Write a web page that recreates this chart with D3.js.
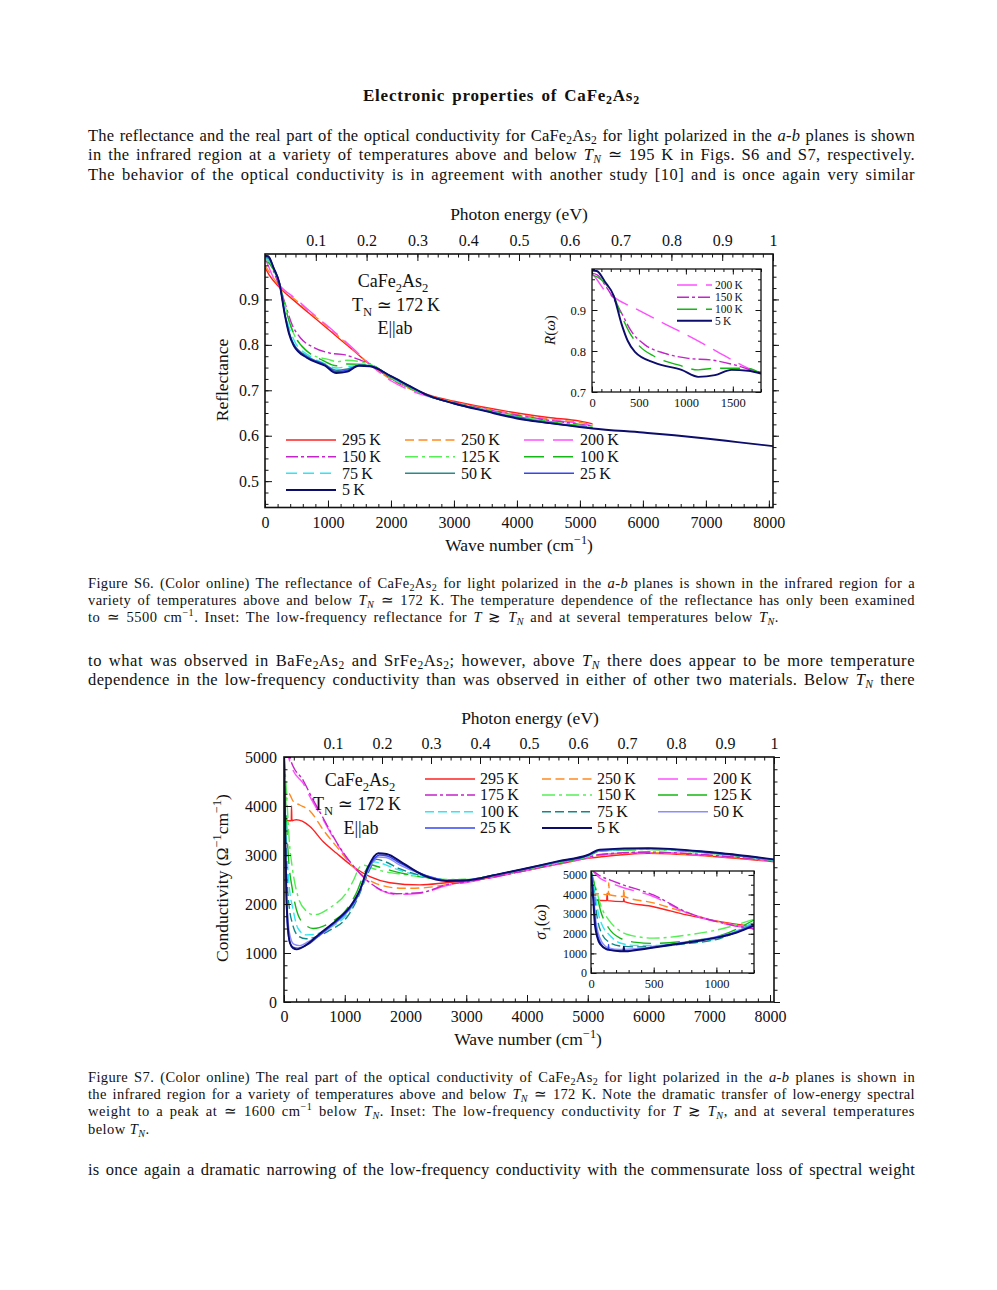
<!DOCTYPE html>
<html><head><meta charset="utf-8">
<script src="https://cdn.jsdelivr.net/npm/d3@7"></script>
<style>body{margin:0;background:#fff}svg{display:block}</style>
</head><body>
<svg id="page" width="997" height="1290"></svg>
<script>
const E = 8065.54; // cm^-1 per eV

// ---------- Fig S6 main: reflectance [wave number, R] ----------
const s6_295K = [[0,0.97],[60,0.955],[240,0.925],[500,0.893],[800,0.858],[1100,0.823],[1400,0.788],[1700,0.753],[2000,0.727],[2300,0.706],[2600,0.69],[3000,0.676],[3500,0.662],[4000,0.65],[4500,0.64],[5000,0.632],[5200,0.626]];
const s6_250K = [[0,0.975],[60,0.962],[240,0.928],[500,0.897],[800,0.862],[1100,0.827],[1400,0.79],[1700,0.753],[2000,0.724],[2300,0.703],[2600,0.688],[3000,0.674],[3500,0.66],[4000,0.647],[4500,0.637],[5000,0.629],[5200,0.624]];
const s6_200K = [[0,0.99],[50,0.975],[120,0.952],[227,0.932],[500,0.9],[800,0.864],[1100,0.829],[1400,0.792],[1700,0.753],[2000,0.721],[2300,0.7],[2600,0.686],[3000,0.672],[3500,0.658],[4000,0.645],[4500,0.635],[5000,0.627],[5200,0.622]];
const s6_150K = [[0,0.99],[60,0.985],[138,0.961],[227,0.929],[316,0.892],[422,0.847],[564,0.815],[777,0.794],[1025,0.782],[1273,0.778],[1521,0.766],[1750,0.752],[2000,0.726],[2300,0.704],[2600,0.687],[3000,0.673],[3500,0.658],[4000,0.645],[4500,0.634],[5000,0.625],[5200,0.621]];
const s6_125K = [[0,0.99],[60,0.983],[138,0.963],[250,0.927],[340,0.875],[440,0.83],[560,0.8],[750,0.778],[1000,0.768],[1150,0.763],[1300,0.766],[1550,0.762],[1750,0.752],[2000,0.727],[2300,0.705],[2600,0.687],[3000,0.672],[3500,0.657],[4000,0.643],[4500,0.632],[5000,0.623],[5200,0.62]];
const s6_100K = [[0,0.985],[60,0.98],[138,0.965],[230,0.935],[316,0.885],[400,0.845],[493,0.815],[670,0.786],[918,0.766],[1131,0.754],[1309,0.758],[1600,0.757],[1750,0.752],[2000,0.728],[2300,0.706],[2600,0.687],[3000,0.672],[3500,0.656],[4000,0.642],[4500,0.631],[5000,0.622],[5200,0.619]];
const s6_75K = [[0,0.99],[60,0.987],[138,0.967],[230,0.935],[316,0.872],[390,0.835],[480,0.805],[670,0.779],[930,0.76],[1131,0.749],[1309,0.752],[1580,0.756],[1750,0.752],[2000,0.729],[2300,0.707],[2600,0.688],[3000,0.672],[3500,0.656],[4000,0.641],[4500,0.63],[5000,0.621],[5200,0.618]];
const s6_50K = [[0,0.993],[60,0.99],[138,0.968],[230,0.935],[316,0.868],[385,0.828],[460,0.801],[670,0.775],[950,0.757],[1131,0.744],[1309,0.747],[1520,0.755],[1700,0.753],[2000,0.73],[2300,0.708],[2600,0.688],[3000,0.671],[3500,0.655],[4000,0.64],[4500,0.629],[5000,0.62],[5200,0.617]];
const s6_25K = [[0,0.995],[60,0.993],[138,0.969],[230,0.935],[316,0.866],[382,0.826],[458,0.8],[670,0.773],[954,0.756],[1131,0.741],[1309,0.744],[1500,0.755],[1680,0.753],[2000,0.731],[2300,0.709],[2600,0.688],[3000,0.671],[3500,0.655],[4000,0.639],[4500,0.628],[5000,0.62],[5200,0.617]];
const s6_5K = [[0,0.996],[50,0.995],[138,0.969],[230,0.935],[316,0.865],[380,0.825],[457,0.798],[670,0.771],[954,0.754],[1131,0.738],[1309,0.741],[1486,0.754],[1663,0.753],[2000,0.731],[2300,0.709],[2600,0.688],[3000,0.671],[3500,0.654],[4000,0.638],[4500,0.628],[5000,0.619],[5200,0.616],[6000,0.607],[6500,0.601],[7000,0.594],[7500,0.586],[8065,0.577]];

// ---------- Fig S6 inset ----------
const s6i_200K = [[0,0.99],[50,0.975],[120,0.952],[227,0.932],[500,0.899],[800,0.863],[1000,0.84],[1300,0.803],[1550,0.771],[1800,0.743]];
const s6i_150K = [[0,0.99],[60,0.985],[138,0.961],[227,0.929],[316,0.892],[422,0.847],[564,0.815],[777,0.794],[1025,0.782],[1273,0.778],[1521,0.766],[1800,0.745]];
const s6i_100K = [[0,0.985],[60,0.98],[138,0.965],[230,0.935],[316,0.885],[400,0.845],[493,0.815],[670,0.786],[918,0.766],[1131,0.754],[1309,0.758],[1645,0.758],[1800,0.745]];
const s6i_5K = [[0,0.996],[50,0.995],[138,0.969],[230,0.935],[316,0.865],[380,0.825],[457,0.798],[670,0.771],[954,0.754],[1131,0.737],[1309,0.741],[1486,0.754],[1663,0.752],[1800,0.745]];

// ---------- Fig S7 main: conductivity [wave number, sigma1] ----------
const s7_295K = [[3,4150],[30,3750],[60,3700],[120,3700],[124,4000],[130,3700],[200,3720],[300,3690],[427,3580],[647,3270],[866,3035],[1140,2760],[1414,2560],[1743,2435],[2237,2390],[2700,2440],[3000,2470],[3500,2570],[4000,2690],[4500,2810],[5000,2930],[5200,2960],[6000,3035],[7000,2975],[8065,2863]];
const s7_250K = [[3,4300],[40,4150],[80,4250],[150,4100],[260,4020],[427,3900],[647,3510],[866,3170],[1195,2690],[1579,2390],[1962,2320],[2300,2330],[2700,2400],[3000,2450],[3500,2560],[4000,2685],[4500,2810],[5000,2935],[5200,2990],[6000,3045],[7000,2985],[8065,2870]];
const s7_200K = [[3,5300],[60,5050],[153,4720],[317,4460],[427,4190],[647,3714],[866,3238],[1195,2694],[1579,2286],[1852,2197],[2237,2220],[2700,2380],[3000,2440],[3500,2555],[4000,2685],[4500,2815],[5000,2945],[5200,3005],[6000,3055],[7000,2995],[8065,2875]];
const s7_175K = [[3,5300],[60,5100],[153,4800],[317,4520],[427,4250],[647,3750],[866,3260],[1195,2700],[1579,2300],[1852,2210],[2237,2230],[2700,2400],[3000,2450],[3500,2560],[4000,2690],[4500,2820],[5000,2950],[5200,3010],[6000,3060],[7000,3000],[8065,2880]];
const s7_150K = [[3,5000],[40,4300],[85,3320],[138,2730],[231,2150],[364,1860],[497,1780],[763,1930],[1029,2230],[1150,2500],[1250,2760],[1320,2790],[1450,2730],[1700,2650],[2000,2600],[2300,2540],[2700,2500],[3000,2500],[3500,2600],[4000,2715],[4500,2840],[5000,2970],[5200,3075],[6000,3110],[7000,3035],[8065,2890]];
const s7_125K = [[3,5000],[30,4000],[70,3000],[138,2300],[231,1780],[364,1560],[480,1500],[763,1620],[1029,1890],[1200,2250],[1330,2650],[1420,2800],[1550,2760],[1800,2670],[2100,2590],[2400,2530],[2700,2495],[3000,2500],[3500,2600],[4000,2720],[4500,2845],[5000,2975],[5200,3080],[6000,3115],[7000,3040],[8065,2895]];
const s7_100K = [[3,5000],[25,3800],[60,2800],[100,2200],[138,1950],[231,1500],[364,1370],[500,1380],[763,1520],[1029,1780],[1200,2130],[1350,2600],[1480,2860],[1600,2830],[1850,2710],[2150,2600],[2450,2530],[2700,2490],[3000,2495],[3500,2600],[4000,2720],[4500,2850],[5000,2980],[5200,3085],[6000,3120],[7000,3045],[8065,2895]];
const s7_75K = [[3,5000],[20,3600],[50,2500],[90,1900],[138,1600],[231,1350],[364,1290],[500,1320],[763,1470],[1029,1720],[1200,2080],[1380,2620],[1520,2910],[1650,2870],[1900,2720],[2200,2600],[2450,2530],[2700,2485],[3000,2490],[3500,2600],[4000,2725],[4500,2855],[5000,2985],[5200,3090],[6000,3125],[7000,3045],[8065,2900]];
const s7_50K = [[3,5000],[18,3400],[40,2300],[70,1600],[110,1300],[160,1180],[260,1150],[400,1230],[600,1370],[800,1560],[1029,1820],[1200,2120],[1400,2720],[1550,2960],[1680,2950],[1900,2800],[2200,2640],[2450,2540],[2700,2480],[3000,2490],[3500,2600],[4000,2725],[4500,2860],[5000,2990],[5200,3095],[6000,3130],[7000,3050],[8065,2900]];
const s7_25K = [[3,5000],[15,3400],[35,2200],[60,1500],[100,1200],[150,1120],[230,1100],[400,1180],[600,1380],[800,1580],[1029,1830],[1200,2130],[1400,2760],[1570,3000],[1700,2980],[1900,2840],[2200,2650],[2450,2535],[2700,2475],[3000,2485],[3500,2600],[4000,2730],[4500,2865],[5000,2995],[5200,3100],[6000,3135],[7000,3055],[8065,2905]];
const s7_5K = [[3,5000],[20,3500],[40,2200],[65,1500],[100,1200],[150,1100],[210,1075],[350,1150],[592,1400],[866,1670],[1086,1945],[1250,2290],[1387,2760],[1551,3035],[1688,3020],[1962,2830],[2291,2590],[2675,2470],[3000,2480],[3500,2600],[4000,2730],[4500,2870],[5000,3000],[5200,3110],[6000,3140],[7000,3060],[8065,2910]];

// ---------- Fig S7 inset ----------
const s7i_295K = [[0,4150],[32,3720],[125,3690],[129,4070],[133,3690],[258,3640],[262,3800],[266,3640],[497,3380],[763,2960],[1029,2620],[1300,2360]];
const s7i_250K = [[0,3900],[32,4050],[138,3990],[142,4600],[146,3990],[258,3900],[262,4300],[266,3900],[497,3575],[763,3070],[1029,2590],[1300,2310]];
const s7i_200K = [[0,5300],[72,4830],[150,4600],[231,4410],[497,3900],[763,3070],[1029,2570],[1300,2230]];
const s7i_175K = [[0,5300],[72,4950],[150,4750],[231,4550],[497,3980],[763,3100],[1029,2580],[1300,2250]];
const s7i_150K = [[0,5200],[40,4300],[85,3320],[138,2730],[231,2150],[364,1860],[497,1780],[763,1930],[1029,2230],[1300,2740]];
const s7i_125K = [[0,5200],[35,4300],[80,3100],[138,2320],[231,1780],[364,1560],[497,1510],[763,1630],[1029,1900],[1300,2700]];
const s7i_100K = [[0,5200],[28,4200],[60,3000],[100,2300],[138,2000],[231,1530],[364,1400],[500,1400],[763,1540],[1029,1800],[1300,2600]];
const s7i_75K = [[0,5200],[25,4000],[50,2800],[95,1900],[138,1600],[231,1380],[364,1330],[500,1350],[763,1500],[1029,1760],[1300,2560]];
const s7i_50K = [[0,5200],[20,4000],[42,2500],[85,1600],[140,1280],[231,1200],[364,1240],[630,1470],[896,1720],[1162,2120],[1300,2520]];
const s7i_25K = [[0,5200],[18,4000],[38,2400],[80,1480],[136,1170],[140,1450],[144,1170],[231,1130],[364,1190],[630,1440],[896,1700],[1162,2090],[1300,2480]];
const s7i_5K = [[0,5200],[15,4000],[32,2400],[72,1475],[125,1220],[231,1110],[258,1100],[262,1350],[266,1100],[364,1170],[630,1425],[896,1680],[1162,2060],[1300,2420]];

// ---------- tick values ----------
const s6xTicks = [0,1000,2000,3000,4000,5000,6000,7000,8000];
const s6yTicks = [0.5,0.6,0.7,0.8,0.9];
const eTicks = [0.1,0.2,0.3,0.4,0.5,0.6,0.7,0.8,0.9,1.0];
const s6ixTicks = [0,500,1000,1500];
const s6iyTicks = [0.7,0.8,0.9];
const s7yTicks = [0,1000,2000,3000,4000,5000];
const s7ixTicks = [0,500,1000];
const s7iyTicks = [0,1000,2000,3000,4000,5000];

// ---------- styles ----------
const ST = {
  r295:{c:'#ff2020',d:null,w:1.4},
  o250:{c:'#ff8a20',d:'9,4.5',w:1.4},
  m200:{c:'#ff50ff',d:'20,9',w:1.4},
  p150:{c:'#c424c8',d:'12,3,3,3',w:1.4},
  lg:{c:'#55ee55',d:'13,4,3,4',w:1.4},
  g:{c:'#14b814',d:'20,9',w:1.4},
  cy:{c:'#30e6f0',d:'11,6',w:1.4},
  cy2:{c:'#30e6f0',d:'9,4',w:1.4},
  teal:{c:'#2a8a8a',d:null,w:1.4},
  teal2:{c:'#108888',d:'9,4',w:1.4},
  lav:{c:'#8c8cff',d:null,w:1.4},
  b:{c:'#3446f0',d:null,w:1.4},
  n:{c:'#0c0c6c',d:null,w:1.9}
};
const s6Set = [
  {lab:'295\u2009K',data:s6_295K,s:ST.r295},{lab:'250\u2009K',data:s6_250K,s:ST.o250},{lab:'200\u2009K',data:s6_200K,s:ST.m200},
  {lab:'150\u2009K',data:s6_150K,s:ST.p150},{lab:'125\u2009K',data:s6_125K,s:ST.lg},{lab:'100\u2009K',data:s6_100K,s:ST.g},
  {lab:'75\u2009K',data:s6_75K,s:ST.cy},{lab:'50\u2009K',data:s6_50K,s:ST.teal},{lab:'25\u2009K',data:s6_25K,s:ST.b},
  {lab:'5\u2009K',data:s6_5K,s:ST.n}];
const s6iSet = [
  {lab:'200\u2009K',data:s6i_200K,s:ST.m200},{lab:'150\u2009K',data:s6i_150K,s:ST.p150},
  {lab:'100\u2009K',data:s6i_100K,s:ST.g},{lab:'5\u2009K',data:s6i_5K,s:ST.n}];
const s7Set = [
  {lab:'295\u2009K',data:s7_295K,i:s7i_295K,s:ST.r295},{lab:'250\u2009K',data:s7_250K,i:s7i_250K,s:ST.o250},{lab:'200\u2009K',data:s7_200K,i:s7i_200K,s:ST.m200},
  {lab:'175\u2009K',data:s7_175K,i:s7i_175K,s:ST.p150},{lab:'150\u2009K',data:s7_150K,i:s7i_150K,s:ST.lg},{lab:'125\u2009K',data:s7_125K,i:s7i_125K,s:ST.g},
  {lab:'100\u2009K',data:s7_100K,i:s7i_100K,s:ST.cy2},{lab:'75\u2009K',data:s7_75K,i:s7i_75K,s:ST.teal2},{lab:'50\u2009K',data:s7_50K,i:s7i_50K,s:ST.lav},
  {lab:'25\u2009K',data:s7_25K,i:s7i_25K,s:ST.b},{lab:'5\u2009K',data:s7_5K,i:s7i_5K,s:ST.n}];

// ---------- helpers ----------
const BODY = "'Liberation Serif','Times New Roman',serif";
const CH = "'Liberation Serif','DejaVu Serif',serif";
const page = d3.select('#page');
page.append('rect').attr('width',997).attr('height',1290).attr('fill','#fff');

function rich(t, str, size, subShift){
  const parts=[]; let buf='', it=false, i=0;
  const flush=()=>{ if(buf){parts.push({s:buf,it}); buf='';} };
  while(i<str.length){
    const c=str[i];
    if(c==='*'){flush(); it=!it; i++; continue;}
    if((c==='_'||c==='^')&&str[i+1]==='{'){flush(); const j=str.indexOf('}',i); parts.push({s:str.slice(i+2,j),it,m:c}); i=j+1; continue;}
    buf+=c; i++;
  }
  flush();
  let pending=0;
  parts.forEach(p=>{
    const ts=t.append('tspan').text(p.s);
    if(p.it) ts.attr('font-style','italic');
    let dy=pending; pending=0;
    if(p.m){ const sh = p.m==='_'? size*subShift : -size*0.42; dy+=sh; pending=-sh; ts.attr('font-size', (size*0.7).toFixed(2)); }
    if(dy) ts.attr('dy', dy.toFixed(2));
  });
}
function txt(parent, x, y, str, size, o={}){
  const t = parent.append('text').attr('x',x).attr('y',y)
    .attr('font-family',o.font||BODY).attr('font-size',size).attr('fill',o.fill||'#111');
  if(o.bold) t.attr('font-weight','bold');
  if(o.anchor) t.attr('text-anchor',o.anchor);
  if(o.rot) t.attr('transform',`rotate(-90,${x},${y})`);
  rich(t, str, size, o.sub!=null?o.sub:0.28);
  if(o.width){
    let nat = t.node().getComputedTextLength();
    if(nat > o.width - 4){
      const f = size*(o.width-6)/nat;
      t.attr('font-size', f.toFixed(2));
      t.selectAll('tspan').each(function(){
        const fs=this.getAttribute('font-size');
        if(fs) this.setAttribute('font-size',(f*0.7).toFixed(2));
      });
      nat = t.node().getComputedTextLength();
    }
    const s = t.text();
    const sp = (s.match(/ /g)||[]).length, n = s.length;
    const extra = Math.max(0, o.width - nat);
    const ws = sp ? Math.min(extra*0.5/sp, 2.2) : 0;
    const ls = (extra - ws*sp)/n;
    t.attr('word-spacing', ws.toFixed(3)).attr('letter-spacing', ls.toFixed(3));
  } else if(o.ls){ t.attr('letter-spacing', o.ls); }
  return t;
}

// ---------- page text ----------
const L=88, W=827, BS=16.5, CS=14.5, SUB=0.2;
txt(page, 363, 101, 'Electronic properties of CaFe_{2}As_{2}', 17, {bold:true, width:277, sub:SUB});
[[141,'The reflectance and the real part of the optical conductivity for CaFe_{2}As_{2} for light polarized in the *a*-*b* planes is shown'],
 [160,'in the infrared region at a variety of temperatures above and below *T_{N}* \u2243 195 K in Figs. S6 and S7, respectively.'],
 [180,'The behavior of the optical conductivity is in agreement with another study [10] and is once again very similar']
].forEach(d=>txt(page, L, d[0], d[1], BS, {width:W, sub:SUB}));
[[588,'Figure S6. (Color online) The reflectance of CaFe_{2}As_{2} for light polarized in the *a*-*b* planes is shown in the infrared region for a',W],
 [605,'variety of temperatures above and below *T_{N}* \u2243 172 K. The temperature dependence of the reflectance has only been examined',W],
 [622,'to \u2243 5500 cm^{\u22121}. Inset: The low-frequency reflectance for *T* \u2273 *T_{N}* and at several temperatures below *T_{N}*.',691]
].forEach(d=>txt(page, L, d[0], d[1], CS, {width:d[2], sub:SUB}));
[[666,'to what was observed in BaFe_{2}As_{2} and SrFe_{2}As_{2}; however, above *T_{N}* there does appear to be more temperature'],
 [685,'dependence in the low-frequency conductivity than was observed in either of other two materials. Below *T_{N}* there']
].forEach(d=>txt(page, L, d[0], d[1], BS, {width:W, sub:SUB}));
[[1082,'Figure S7. (Color online) The real part of the optical conductivity of CaFe_{2}As_{2} for light polarized in the *a*-*b* planes is shown in',W],
 [1099,'the infrared region for a variety of temperatures above and below *T_{N}* \u2243 172 K. Note the dramatic transfer of low-energy spectral',W],
 [1116,'weight to a peak at \u2243 1600 cm^{\u22121} below *T_{N}*. Inset: The low-frequency conductivity for *T* \u2273 *T_{N}*, and at several temperatures',W]
].forEach(d=>txt(page, L, d[0], d[1], CS, {width:d[2], sub:SUB}));
txt(page, L, 1134, 'below *T_{N}*.', CS, {ls:0.45, sub:SUB});
txt(page, L, 1175, 'is once again a dramatic narrowing of the low-frequency conductivity with the commensurate loss of spectral weight', BS, {width:W});

// ---------- chart helpers ----------
let clipN=0;
function axis(g, fn, scale, vals, size, pad, fmt, tr, fs){
  const a = fn(scale).tickValues(vals).tickSize(size).tickPadding(pad).tickFormat(fmt||(()=>''));
  const ag = g.append('g').attr('transform',tr).call(a);
  ag.select('.domain').remove();
  ag.selectAll('line').attr('stroke','#111').attr('stroke-width',1);
  ag.selectAll('text').attr('font-family',CH).attr('font-size',fs||16).attr('fill','#111');
  return ag;
}
function curves(g, set, x, y, key, box){
  const id='clip'+(clipN++);
  g.append('clipPath').attr('id',id).append('rect')
    .attr('x',box.l).attr('y',box.t).attr('width',box.r-box.l).attr('height',box.b-box.t);
  const line=d3.line().x(d=>x(d[0])).y(d=>y(d[1])).curve(d3.curveMonotoneX);
  g.append('g').attr('clip-path',`url(#${id})`).selectAll('path').data(set).join('path')
    .attr('d',d=>line(d[key])).attr('fill','none')
    .attr('stroke',d=>d.s.c).attr('stroke-width',d=>d.s.w)
    .attr('stroke-dasharray',d=>d.s.d).attr('stroke-linejoin','round');
}
function legend(g, set, cols, rows, len, gap, fs){
  set.forEach((d,i)=>{
    const cx=cols[i%cols.length], cy=rows[Math.floor(i/cols.length)];
    g.append('line').attr('x1',cx).attr('x2',cx+len).attr('y1',cy).attr('y2',cy)
      .attr('stroke',d.s.c).attr('stroke-width',d.s.w).attr('stroke-dasharray',d.s.d);
    g.append('text').attr('x',cx+len+gap).attr('y',cy+fs*0.34).attr('font-family',CH)
      .attr('font-size',fs).attr('fill','#111').text(d.lab);
  });
}
const eFmt = d=> d>0.999?'1':d3.format('.1f')(d);
const minorE = d3.range(0.02,1.0001,0.02);

// ================= Fig S6 =================
{
  const b={l:265,r:773,t:254,b:507.5};
  const g=page.append('g');
  const x=d3.scaleLinear().domain([0,E]).range([b.l,b.r]);
  const y=d3.scaleLinear().domain([0.442,1.0]).range([b.b,b.t]);
  const e=d3.scaleLinear().domain([0,1]).range([b.l,b.r]);
  curves(g, s6Set, x, y, 'data', b);
  g.append('rect').attr('x',b.l).attr('y',b.t).attr('width',b.r-b.l).attr('height',b.b-b.t)
    .attr('fill','none').attr('stroke','#111').attr('stroke-width',1.6);
  axis(g, d3.axisBottom, x, d3.range(0,8001,200), -3.5, 9, null, `translate(0,${b.b})`);
  axis(g, d3.axisBottom, x, s6xTicks, -7, 9, d3.format('d'), `translate(0,${b.b})`);
  axis(g, d3.axisTop, e, minorE, -3.5, 9, null, `translate(0,${b.t})`);
  axis(g, d3.axisTop, e, eTicks, -7, 8, eFmt, `translate(0,${b.t})`);
  axis(g, d3.axisLeft, y, d3.range(0.45,0.9999,0.025), -3.5, 6, null, `translate(${b.l},0)`);
  axis(g, d3.axisLeft, y, s6yTicks, -7, 6, d3.format('.1f'), `translate(${b.l},0)`);
  axis(g, d3.axisRight, y, d3.range(0.45,0.9999,0.025), 3.5, 6, null, `translate(${b.r},0)`);
  axis(g, d3.axisRight, y, s6yTicks, 6, 6, null, `translate(${b.r},0)`);
  txt(g, 519, 220, 'Photon energy (eV)', 17.5, {font:CH, anchor:'middle'});
  txt(g, 519, 551, 'Wave number (cm^{\u22121})', 17.5, {font:CH, anchor:'middle'});
  txt(g, 228, 380, 'Reflectance', 17.5, {font:CH, anchor:'middle', rot:true});
  txt(g, 393, 287, 'CaFe_{2}As_{2}', 18, {font:CH, anchor:'middle'});
  txt(g, 396, 311, 'T_{N} \u2243 172\u2009K', 18, {font:CH, anchor:'middle'});
  txt(g, 395, 334, 'E||ab', 18, {font:CH, anchor:'middle'});
  legend(g, s6Set, [286,405,524], [440,456.7,473.3,490], 50, 6, 16);

  // inset
  const ib={l:592,r:761,t:269,b:392};
  const gi=page.append('g');
  gi.append('rect').attr('x',ib.l).attr('y',ib.t).attr('width',ib.r-ib.l).attr('height',ib.b-ib.t).attr('fill','#fff');
  const xi=d3.scaleLinear().domain([0,1800]).range([ib.l,ib.r]);
  const yi=d3.scaleLinear().domain([0.7,1.0]).range([ib.b,ib.t]);
  curves(gi, s6iSet, xi, yi, 'data', ib);
  gi.append('rect').attr('x',ib.l).attr('y',ib.t).attr('width',ib.r-ib.l).attr('height',ib.b-ib.t)
    .attr('fill','none').attr('stroke','#111').attr('stroke-width',1.3);
  const mx=d3.range(0,1801,100), my=d3.range(0.7,1.0001,0.025), My=[0.7,0.8,0.9,1.0];
  axis(gi, d3.axisBottom, xi, mx, -3, 6, null, `translate(0,${ib.b})`, 12);
  axis(gi, d3.axisBottom, xi, s6ixTicks, -5.5, 6, d3.format('d'), `translate(0,${ib.b})`, 12.5);
  axis(gi, d3.axisTop, xi, mx, -3, 6, null, `translate(0,${ib.t})`, 12);
  axis(gi, d3.axisTop, xi, s6ixTicks, -5.5, 6, null, `translate(0,${ib.t})`, 12);
  axis(gi, d3.axisLeft, yi, my, -3, 6, null, `translate(${ib.l},0)`, 12);
  axis(gi, d3.axisLeft, yi, s6iyTicks, -5.5, 6, d3.format('.1f'), `translate(${ib.l},0)`, 12.5);
  axis(gi, d3.axisRight, yi, my, -3, 6, null, `translate(${ib.r},0)`, 12);
  axis(gi, d3.axisRight, yi, My, -5.5, 6, null, `translate(${ib.r},0)`, 12);
  txt(gi, 555, 330, '*R*(*\u03c9*)', 15, {font:CH, anchor:'middle', rot:true});
  legend(gi, s6iSet, [677], [285,297.3,309.3,320.7], 35, 3, 11.5);
}

// ================= Fig S7 =================
{
  const b={l:284,r:774,t:757,b:1002};
  const g=page.append('g');
  const x=d3.scaleLinear().domain([0,E]).range([b.l,b.r]);
  const y=d3.scaleLinear().domain([0,5000]).range([b.b,b.t]);
  const e=d3.scaleLinear().domain([0,1]).range([b.l,b.r]);
  curves(g, s7Set, x, y, 'data', b);
  g.append('rect').attr('x',b.l).attr('y',b.t).attr('width',b.r-b.l).attr('height',b.b-b.t)
    .attr('fill','none').attr('stroke','#111').attr('stroke-width',1.6);
  axis(g, d3.axisBottom, x, d3.range(0,8001,200), -3.5, 9, null, `translate(0,${b.b})`);
  axis(g, d3.axisBottom, x, s6xTicks, -7, 9, d3.format('d'), `translate(0,${b.b})`);
  axis(g, d3.axisTop, e, minorE, -3.5, 9, null, `translate(0,${b.t})`);
  axis(g, d3.axisTop, e, eTicks, -7, 8, eFmt, `translate(0,${b.t})`);
  axis(g, d3.axisLeft, y, d3.range(0,5001,250), -3.5, 7, null, `translate(${b.l},0)`);
  axis(g, d3.axisLeft, y, s7yTicks, -7, 7, d3.format('d'), `translate(${b.l},0)`);
  axis(g, d3.axisRight, y, d3.range(0,5001,250), 3.5, 6, null, `translate(${b.r},0)`);
  axis(g, d3.axisRight, y, s7yTicks, 6, 6, null, `translate(${b.r},0)`);
  txt(g, 530, 724, 'Photon energy (eV)', 17.5, {font:CH, anchor:'middle'});
  txt(g, 528, 1045, 'Wave number (cm^{\u22121})', 17.5, {font:CH, anchor:'middle'});
  txt(g, 228, 878, 'Conductivity (\u03a9^{\u22121}cm^{\u22121})', 17.5, {font:CH, anchor:'middle', rot:true});
  txt(g, 360, 786, 'CaFe_{2}As_{2}', 18, {font:CH, anchor:'middle'});
  txt(g, 357, 810, 'T_{N} \u2243 172\u2009K', 18, {font:CH, anchor:'middle'});
  txt(g, 361, 834, 'E||ab', 18, {font:CH, anchor:'middle'});
  legend(g, s7Set, [425,542,658], [779,795,811.7,828], 50, 5, 16);

  // inset
  const ib={l:591,r:754,t:871,b:973};
  const gi=page.append('g');
  gi.append('rect').attr('x',ib.l).attr('y',ib.t).attr('width',ib.r-ib.l).attr('height',ib.b-ib.t).attr('fill','#fff');
  const xi=d3.scaleLinear().domain([0,1300]).range([ib.l,ib.r]);
  const yi=d3.scaleLinear().domain([0,5200]).range([ib.b,ib.t]);
  curves(gi, s7Set, xi, yi, 'i', ib);
  gi.append('rect').attr('x',ib.l).attr('y',ib.t).attr('width',ib.r-ib.l).attr('height',ib.b-ib.t)
    .attr('fill','none').attr('stroke','#111').attr('stroke-width',1.3);
  const mx=d3.range(0,1301,100), my=d3.range(0,5001,500);
  axis(gi, d3.axisBottom, xi, mx, -3, 6, null, `translate(0,${ib.b})`, 12);
  axis(gi, d3.axisBottom, xi, s7ixTicks, -5.5, 6, d3.format('d'), `translate(0,${ib.b})`, 12.5);
  axis(gi, d3.axisTop, xi, mx, -3, 6, null, `translate(0,${ib.t})`, 12);
  axis(gi, d3.axisTop, xi, s7ixTicks, -5.5, 6, null, `translate(0,${ib.t})`, 12);
  axis(gi, d3.axisLeft, yi, my, -3, 4, null, `translate(${ib.l},0)`, 12);
  axis(gi, d3.axisLeft, yi, s7iyTicks, -5.5, 4, d3.format('d'), `translate(${ib.l},0)`, 12);
  axis(gi, d3.axisRight, yi, my, -3, 6, null, `translate(${ib.r},0)`, 12);
  axis(gi, d3.axisRight, yi, s7iyTicks, -5.5, 6, null, `translate(${ib.r},0)`, 12);
  txt(gi, 546, 922, '*\u03c3*_{1}(*\u03c9*)', 16, {font:CH, anchor:'middle', rot:true});
}
</script>
</body></html>
